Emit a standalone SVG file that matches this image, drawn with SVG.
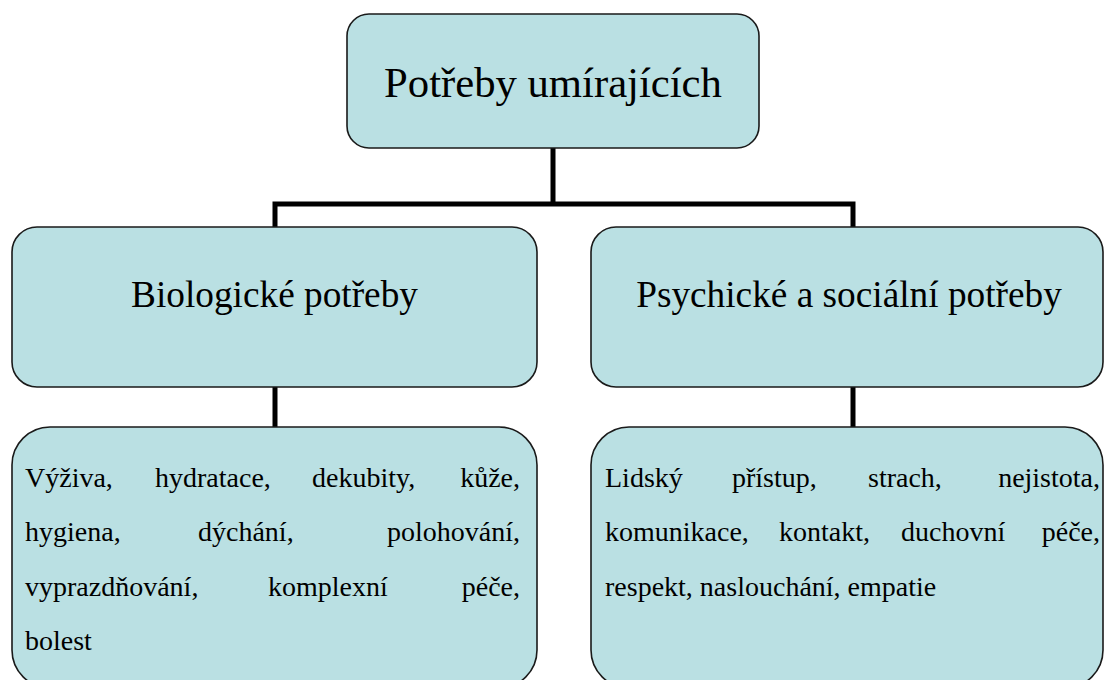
<svg xmlns="http://www.w3.org/2000/svg" width="1104" height="680" viewBox="0 0 1104 680">
<style>
.box{fill:#bae0e3;stroke:#1a1a1a;stroke-width:1.6}
.conn{fill:none;stroke:#000;stroke-width:5;stroke-linejoin:miter}
text{font-family:"Liberation Serif","Times New Roman",serif;fill:#000}
.t1{font-size:42.7px;text-anchor:middle}
.t2{font-size:37.3px;text-anchor:middle}
.t3{font-size:28px}
</style>
<rect width="1104" height="680" fill="#fff"/>
<g id="connectors">
<path class="conn" d="M553,148 V204 M275,229 V204 H853 V229"/>
<path class="conn" d="M275,386 V428"/>
<path class="conn" d="M853,386 V428"/>
</g>
<g id="root">
<rect class="box" x="347" y="14" width="412" height="134" rx="22" ry="22"/>
<text class="t1" x="553" y="97">Potřeby umírajících</text>
</g>
<g id="bio">
<rect class="box" x="12" y="227" width="525" height="160" rx="25" ry="25"/>
<text class="t2" x="274.5" y="307">Biologické potřeby</text>
</g>
<g id="psych">
<rect class="box" x="591" y="227" width="512" height="160" rx="25" ry="25"/>
<text class="t2" x="849" y="307">Psychické a sociální potřeby</text>
</g>
<g id="bio-list">
<rect class="box" x="12" y="427" width="525" height="261" rx="38" ry="38"/>
<text class="t3" y="487"><tspan x="25">Výživa,</tspan><tspan x="155">hydratace,</tspan><tspan x="312">dekubity,</tspan><tspan x="520" text-anchor="end">kůže,</tspan></text>
<text class="t3" y="541"><tspan x="25">hygiena,</tspan><tspan x="198">dýchání,</tspan><tspan x="520" text-anchor="end">polohování,</tspan></text>
<text class="t3" y="596"><tspan x="25">vyprazdňování,</tspan><tspan x="268">komplexní</tspan><tspan x="520" text-anchor="end">péče,</tspan></text>
<text class="t3" y="650"><tspan x="25">bolest</tspan></text>
</g>
<g id="psych-list">
<rect class="box" x="591" y="427" width="512" height="261" rx="38" ry="38"/>
<text class="t3" y="487"><tspan x="605">Lidský</tspan><tspan x="732">přístup,</tspan><tspan x="868">strach,</tspan><tspan x="1100" text-anchor="end">nejistota,</tspan></text>
<text class="t3" y="541"><tspan x="605">komunikace,</tspan><tspan x="779">kontakt,</tspan><tspan x="901">duchovní</tspan><tspan x="1100" text-anchor="end">péče,</tspan></text>
<text class="t3" x="605" y="596">respekt, naslouchání, empatie</text>
</g>
</svg>
